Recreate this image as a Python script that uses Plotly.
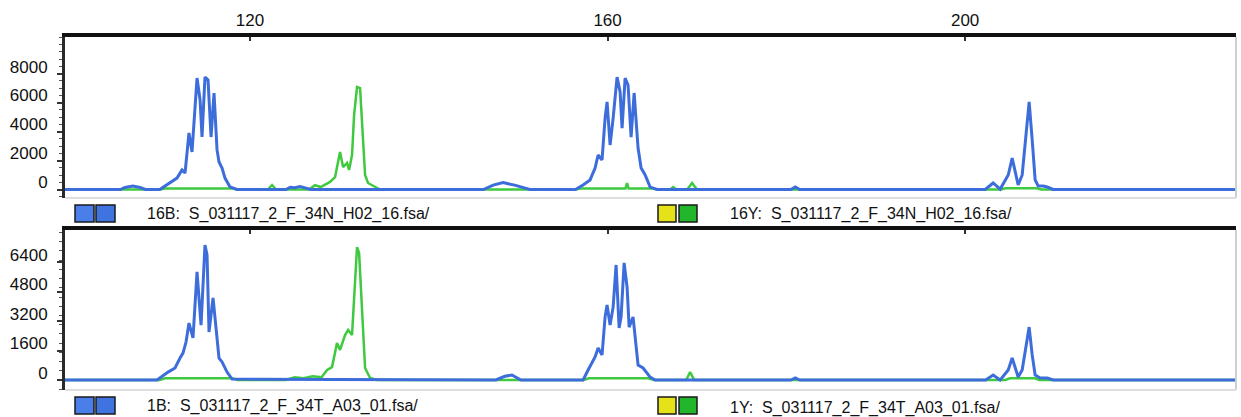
import plotly.graph_objects as go

# ---------------- data (size in bp, signal in RFU) ----------------
x_tick_vals = [120, 160, 200]
top_y_ticks = [0, 2000, 4000, 6000, 8000]
bot_y_ticks = [0, 1600, 3200, 4800, 6400]

top_blue_size = [99.3, 105.5, 106.0, 106.9, 107.7, 108.3, 109.9, 111.05, 111.83, 112.39, 112.73,
                 113.17, 113.51, 114.07, 114.41, 114.63, 114.96, 115.30, 115.64, 115.97, 116.31,
                 116.53, 116.87, 117.20, 117.76, 118.55, 124.0, 124.5, 125.0, 125.6, 126.2, 126.8,
                 146.1, 147.2, 148.3, 149.6, 151.3, 156.4, 157.26, 158.04, 158.60, 158.94, 159.38,
                 159.72, 159.94, 160.28, 160.62, 161.06, 161.40, 161.62, 161.96, 162.29, 162.63,
                 162.97, 163.41, 163.75, 164.20, 164.76, 165.54, 180.5, 181.0, 181.5, 202.24,
                 203.13, 203.92, 204.82, 205.26, 205.59, 205.93, 206.38, 206.82, 207.16, 207.50,
                 207.83, 208.17, 208.73, 209.18, 209.85, 230.3]
top_blue_rfu = [0, 0, 140, 240, 140, 0, 0, 450, 790, 1350, 1140, 3900, 2590, 7690, 6180, 3620,
                7760, 7560, 3620, 6660, 2730, 1900, 1480, 790, 170, 0, 0, 150, 120, 200, 100, 0,
                0, 300, 480, 300, 0, 0, 310, 660, 1480, 2380, 2040, 4930, 6040, 3070, 4930, 7760,
                6730, 4240, 7690, 7210, 3620, 6660, 2860, 1480, 1000, 170, 0, 0, 170, 0, 0, 450,
                30, 1000, 2170, 1350, 310, 1000, 4100, 6040, 3420, 660, 240, 240, 170, 0, 0]

top_green_size = [99.3, 109.9, 110.5, 118.0, 118.6, 122.0, 122.46, 122.9, 126.6, 127.27, 127.9,
                  128.95, 129.51, 130.07, 130.41, 130.85, 131.08, 131.41, 131.64, 131.97, 132.31,
                  132.64, 132.87, 133.20, 134.21, 134.55, 156.4, 157.0, 162.0, 162.18, 162.35,
                  165.0, 165.6, 167.0, 167.33, 167.7, 168.9, 169.45, 170.0, 204.0, 204.5, 208.0,
                  208.5, 230.3]
top_green_rfu = [0, 0, 70, 70, 0, 0, 310, 0, 0, 300, 170, 520, 860, 2590, 1550, 1830, 1350, 2380,
                 5140, 7070, 7000, 3280, 1000, 450, 100, 0, 0, 70, 70, 450, 70, 70, 0, 0, 170, 0,
                 0, 450, 0, 0, 80, 80, 0, 0]

bot_blue_size = [99.3, 109.6, 110.83, 111.61, 112.17, 112.50, 112.84, 113.17, 113.62, 114.07,
                 114.52, 114.96, 115.19, 115.41, 115.86, 116.20, 116.53, 116.87, 117.43, 117.99,
                 147.5, 148.5, 149.3, 150.3, 157.26, 157.82, 158.60, 158.94, 159.38, 159.72,
                 159.94, 160.28, 160.62, 160.95, 161.29, 161.51, 161.85, 162.18, 162.41, 162.85,
                 163.19, 163.41, 163.97, 164.76, 165.31, 180.5, 181.0, 181.5, 202.3, 203.13,
                 203.92, 204.82, 205.26, 205.59, 205.93, 206.38, 206.82, 207.16, 207.50, 207.83,
                 208.40, 209.18, 209.85, 230.3]
bot_blue_rfu = [0, 0, 430, 650, 1190, 1460, 2060, 3090, 2280, 5860, 2980, 7320, 6780, 2600, 4450,
                2710, 1190, 980, 430, 50, 0, 200, 270, 0, 0, 540, 1250, 1740, 1360, 3420, 4070,
                2980, 3960, 6240, 2820, 3420, 6350, 5040, 2870, 3420, 2010, 810, 650, 160, 0, 0,
                110, 0, 0, 270, 0, 540, 1190, 650, 160, 540, 1900, 2870, 1360, 270, 110, 110, 0, 0]

bot_green_size = [99.3, 109.9, 110.5, 118.0, 118.6, 124.0, 125.0, 126.0, 127.0, 128.0, 128.62,
                  129.17, 129.73, 130.07, 130.63, 130.97, 131.41, 131.64, 131.97, 132.20, 132.53,
                  132.87, 133.43, 134.21, 157.3, 157.9, 164.5, 165.2, 168.8, 169.23, 169.7, 204.5,
                  205.0, 207.8, 208.3, 230.3]
bot_green_rfu = [0, 0, 90, 90, 0, 0, 150, 100, 200, 150, 540, 700, 2010, 1630, 2440, 2710, 2440,
                 4230, 7210, 6890, 3900, 650, 110, 0, 0, 90, 90, 0, 0, 430, 0, 0, 90, 90, 0, 0]

legend_texts = ["16B:  S_031117_2_F_34N_H02_16.fsa/", "16Y:  S_031117_2_F_34N_H02_16.fsa/",
                "1B:  S_031117_2_F_34T_A03_01.fsa/", "1Y:  S_031117_2_F_34T_A03_01.fsa/"]

# ---------------- styling ----------------
W, H = 1241, 417
FONT = "Liberation Sans, Arial, sans-serif"
BLUE = "#3d6ddb"
GREEN = "#3fc93f"

def px_x(p):
    return p / W

def px_y(p):
    return 1 - p / H

fig = go.Figure()

fig.add_trace(go.Scatter(x=top_green_size, y=top_green_rfu, mode="lines",
                         line=dict(color=GREEN, width=2.5), xaxis="x", yaxis="y",
                         showlegend=False, hoverinfo="skip"))
fig.add_trace(go.Scatter(x=top_blue_size, y=top_blue_rfu, mode="lines",
                         line=dict(color=BLUE, width=3), xaxis="x", yaxis="y",
                         showlegend=False, hoverinfo="skip"))
fig.add_trace(go.Scatter(x=bot_green_size, y=bot_green_rfu, mode="lines",
                         line=dict(color=GREEN, width=2.5), xaxis="x2", yaxis="y2",
                         showlegend=False, hoverinfo="skip"))
fig.add_trace(go.Scatter(x=bot_blue_size, y=bot_blue_rfu, mode="lines",
                         line=dict(color=BLUE, width=3), xaxis="x2", yaxis="y2",
                         showlegend=False, hoverinfo="skip"))

xdom = [px_x(65), px_x(1236)]
top_dom = [px_y(198), px_y(37)]
bot_dom = [px_y(390), px_y(230)]
xrange = [99.3, 230.3]

common_x = dict(range=xrange, domain=xdom, side="top", showline=True, linecolor="#111111",
                linewidth=4, showgrid=False, zeroline=False, tickvals=x_tick_vals,
                ticks="inside", ticklen=4, tickwidth=2, tickcolor="#333333")
common_y = dict(showline=True, linecolor="#2a2a2a", linewidth=3, showgrid=False,
                zeroline=False, ticks="outside", ticklen=5, tickwidth=2, tickcolor="#333333",
                ticklabelshift=-7, ticklabelstandoff=6,
                tickfont=dict(family=FONT, size=17, color="#111111"),
                minor=dict(ticks="outside", ticklen=3, tickwidth=1, tickcolor="#555555", nticks=5))

fig.update_layout(
    width=W, height=H, autosize=False,
    margin=dict(l=0, r=0, t=0, b=0),
    paper_bgcolor="white", plot_bgcolor="white",
    font=dict(family=FONT, size=16, color="#111111"),
    xaxis=dict(common_x, anchor="y", tickfont=dict(family=FONT, size=17, color="#111111")),
    yaxis=dict(common_y, domain=top_dom, anchor="x", range=[-586, 10522], tickvals=top_y_ticks),
    xaxis2=dict(common_x, anchor="y2", matches="x", showticklabels=False),
    yaxis2=dict(common_y, domain=bot_dom, anchor="x2", range=[-542, 8136], tickvals=bot_y_ticks),
)

shapes = []
# light right / bottom frame of each panel
for xr, yr in (("x domain", "y domain"), ("x2 domain", "y2 domain")):
    shapes.append(dict(type="line", xref=xr, yref=yr, x0=1, x1=1, y0=0, y1=1,
                       line=dict(color="#cfcfcf", width=2)))
    shapes.append(dict(type="line", xref=xr, yref=yr, x0=0, x1=1, y0=0, y1=0,
                       line=dict(color="#dedede", width=2)))

# legend swatches (dye colour boxes)
def swatch(x0, x1, y0, y1, color):
    shapes.append(dict(type="rect", xref="paper", yref="paper",
                       x0=px_x(x0), x1=px_x(x1), y0=px_y(y1), y1=px_y(y0),
                       fillcolor=color, line=dict(color="#1a1a1a", width=1.5)))

for ytop, ybot in ((205, 222), (397, 414)):
    swatch(75, 94, ytop, ybot, "#4a7ee8")
    swatch(96, 115, ytop, ybot, "#3f74e0")
    swatch(658, 676, ytop, ybot, "#e6e21a")
    swatch(679, 697, ytop, ybot, "#22b62c")

fig.update_layout(shapes=shapes)

annots = []
for text, xp, yp in ((legend_texts[0], 145, 214), (legend_texts[1], 728, 214),
                     (legend_texts[2], 145, 406), (legend_texts[3], 728, 408)):
    annots.append(dict(text=text, xref="paper", yref="paper", x=px_x(xp), y=px_y(yp),
                       xanchor="left", yanchor="middle", showarrow=False,
                       font=dict(family=FONT, size=16, color="#111111")))
fig.update_layout(annotations=annots)

fig.write_html("out.html", config={"displayModeBar": False, "staticPlot": True},
               post_script="document.body.style.margin='0';document.body.style.padding='0';")
